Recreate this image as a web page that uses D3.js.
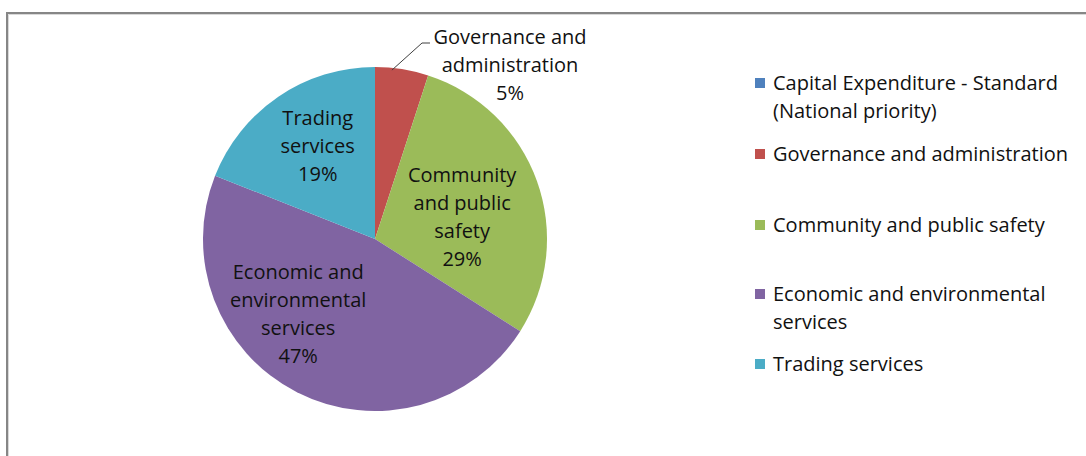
<!DOCTYPE html>
<html>
<head>
<meta charset="utf-8">
<script src="https://cdn.jsdelivr.net/npm/d3@7"></script>
<style>
  html, body { margin: 0; padding: 0; background: #fff; }
  svg { display: block; }
  text { font-family: "Open Sans", Lato, sans-serif; fill: #111; }
</style>
</head>
<body>
<svg id="chart" width="1086" height="456"></svg>
<script>
// Capital budget shares by function (percent)
const categories = [
  "Capital Expenditure - Standard (National priority)",
  "Governance and administration",
  "Community and public safety",
  "Economic and environmental services",
  "Trading services"
];
const shares = [0, 5, 29, 47, 19];
const colors = ["#4F81BD", "#C0504D", "#9BBB59", "#8064A2", "#4BACC6"];

// Slice labels, split over lines
const sliceLabelLines = [
  [],
  ["Governance and", "administration"],
  ["Community", "and public", "safety"],
  ["Economic and", "environmental", "services"],
  ["Trading", "services"]
];
// Legend entries, wrapped
const legendLines = [
  ["Capital Expenditure - Standard", "(National priority)"],
  ["Governance and administration"],
  ["Community and public safety"],
  ["Economic and environmental", "services"],
  ["Trading services"]
];

const W = 1086, H = 456;
const svg = d3.select("#chart");

// Frame of the chart area, running off the right and bottom edges
svg.append("path")
  .attr("d", `M7,${H + 2} V13 H${W + 2}`)
  .attr("fill", "none").attr("stroke", "#868686").attr("stroke-width", 2);
svg.append("path")
  .attr("d", `M8.5,${H + 2} V14.5 H${W + 2}`)
  .attr("fill", "none").attr("stroke", "#d9d9d9").attr("stroke-width", 1);

const cx = 375, cy = 239, R = 172;
const fontSize = 20, lineH = 28;

const pie = d3.pie().sort(null).value(d => d);
const arcs = pie(shares);
const arc = d3.arc().innerRadius(0).outerRadius(R);

const g = svg.append("g").attr("transform", `translate(${cx},${cy})`);
g.selectAll("path.slice")
  .data(arcs)
  .join("path")
  .attr("class", "slice")
  .attr("d", arc)
  .attr("fill", (d, i) => colors[i]);

// Inside labels: radius fraction along the slice bisector, plus a small nudge
const labelRadius = [0, 0, 0.52, 0.625, 0.634];
const labelNudge = [[0, 0], [0, 0], [3, 8], [-28, -21], [4, -3]];

const labelG = g.append("g");
arcs.forEach((a, i) => {
  if (!sliceLabelLines[i].length) return;
  const lines = sliceLabelLines[i].concat([d3.format(".0%")(shares[i] / 100)]);
  let x, y;
  if (i === 1) {
    // small slice: label outside, with a leader line
    const mid = (a.startAngle + a.endAngle) / 2;
    const px = Math.sin(mid) * R, py = -Math.cos(mid) * R;
    x = 135; y = -202;
    labelG.append("path")
      .attr("d", `M${px - 10},${py + 1} L${x - 88},${y + 6} H${x - 80}`)
      .attr("fill", "none").attr("stroke", "#404040").attr("stroke-width", 1);
  } else {
    const c = d3.arc().innerRadius(0).outerRadius(R * labelRadius[i] * 2).centroid(a);
    x = c[0] + labelNudge[i][0];
    y = c[1] + labelNudge[i][1] - (lines.length - 1) * lineH / 2;
  }
  const t = labelG.append("text")
    .attr("text-anchor", "middle")
    .attr("font-size", fontSize);
  lines.forEach((ln, k) => {
    t.append("tspan").attr("x", x).attr("y", y + k * lineH).attr("dy", "0.35em").text(ln);
  });
});

// Legend
const legendX = 755, legendRowsY = [83, 154, 225, 294, 364];
const lg = svg.append("g");
legendLines.forEach((lines, i) => {
  const y0 = legendRowsY[i];
  lg.append("rect")
    .attr("x", legendX).attr("y", y0 - 5).attr("width", 10).attr("height", 10)
    .attr("fill", colors[i]);
  const t = lg.append("text").attr("font-size", fontSize);
  lines.forEach((ln, k) => {
    t.append("tspan").attr("x", legendX + 18).attr("y", y0 + k * 27.5).attr("dy", "0.35em").text(ln);
  });
});
</script>
</body>
</html>
